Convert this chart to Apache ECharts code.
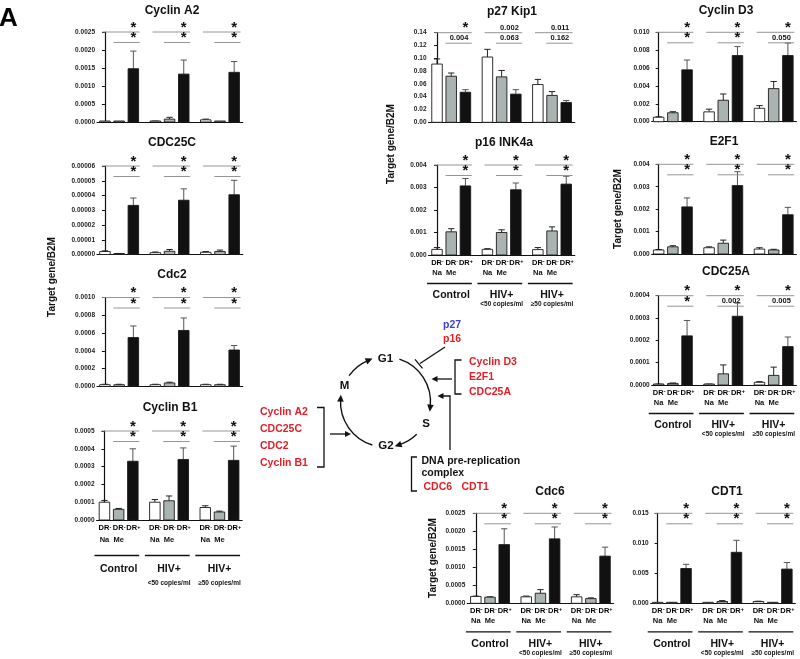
<!DOCTYPE html>
<html><head><meta charset="utf-8">
<script src="https://cdn.jsdelivr.net/npm/echarts@6/dist/echarts.min.js"></script>
<style>html,body{margin:0;padding:0;background:#fff}#c{width:800px;height:659px}</style>
</head><body><div id="c"></div>
<script>
const FONT = '"Liberation Sans", Arial, Helvetica, sans-serif';

// ---------- DATA ----------
const barLabelsTop = ['DR⁻', 'DR⁻', 'DR⁺'];
const barLabelsBottom = ['Na', 'Me', ''];
const groupNames = ['Control', 'HIV+', 'HIV+'];
const groupSubs = ['', '<50 copies/ml', '≥50 copies/ml'];

const cyclinA2Mean = [0.00001, 0.00001, 0.00148, 0.00002, 0.00008, 0.00133, 0.00006, 0.00002, 0.00138];
const cyclinA2Err  = [0, 0, 0.00049, 0.000005, 0.00005, 0.00039, 0.00002, 0, 0.00030];
const cyclinA2Sig  = [['*', '*'], ['*', '*'], ['*', '*']];
const cyclinA2Ticks = ['0.0000', '0.0005', '0.0010', '0.0015', '0.0020', '0.0025'];

const cdc25cMean = [0.0000020, 0.0000005, 0.0000333, 0.0000012, 0.0000022, 0.0000368, 0.0000015, 0.0000020, 0.0000405];
const cdc25cErr  = [0.0000005, 0.0000002, 0.0000050, 0.0000005, 0.0000012, 0.0000077, 0.0000005, 0.0000010, 0.0000098];
const cdc25cSig  = [['*', '*'], ['*', '*'], ['*', '*']];
const cdc25cTicks = ['0.00000', '0.00001', '0.00002', '0.00003', '0.00004', '0.00005', '0.00006'];

const cdc2Mean = [0.00002, 0.00002, 0.00055, 0.00002, 0.00004, 0.00063, 0.00002, 0.00002, 0.00041];
const cdc2Err  = [0.000005, 0.000005, 0.00013, 0.000005, 0.000008, 0.00014, 0.000005, 0.000005, 0.00005];
const cdc2Sig  = [['*', '*'], ['*', '*'], ['*', '*']];
const cdc2Ticks = ['0.0000', '0.0002', '0.0004', '0.0006', '0.0008', '0.0010'];

const cyclinB1Mean = [0.00010, 0.00006, 0.00033, 0.00010, 0.000108, 0.00034, 0.00007, 0.000045, 0.000335];
const cyclinB1Err  = [0.00001, 0.000005, 0.00007, 0.000015, 0.000027, 0.000065, 0.00001, 0.000005, 0.00008];
const cyclinB1Sig  = [['*', '*'], ['*', '*'], ['*', '*']];
const cyclinB1Ticks = ['0.0000', '0.0001', '0.0002', '0.0003', '0.0004', '0.0005'];

const p27Mean = [0.091, 0.072, 0.047, 0.102, 0.071, 0.044, 0.059, 0.042, 0.031];
const p27Err  = [0.008, 0.005, 0.004, 0.012, 0.010, 0.007, 0.008, 0.006, 0.003];
const p27Sig  = [['*', '0.004'], ['0.002', '0.063'], ['0.011', '0.162']];
const p27Ticks = ['0.00', '0.02', '0.04', '0.06', '0.08', '0.10', '0.12', '0.14'];

const p16Mean = [0.00025, 0.00103, 0.00307, 0.00025, 0.00100, 0.00290, 0.00024, 0.00107, 0.00315];
const p16Err  = [0.00008, 0.00014, 0.00033, 0.00003, 0.00012, 0.00030, 0.00009, 0.00018, 0.00035];
const p16Sig  = [['*', '*'], ['*', '*'], ['*', '*']];
const p16Ticks = ['0.000', '0.001', '0.002', '0.003', '0.004'];

const cyclinD3Mean = [0.0005, 0.0010, 0.0058, 0.0011, 0.0024, 0.0074, 0.0015, 0.0037, 0.0074];
const cyclinD3Err  = [0.00005, 0.00012, 0.0011, 0.0003, 0.0007, 0.0010, 0.0003, 0.0008, 0.0014];
const cyclinD3Sig  = [['*', '*'], ['*', '*'], ['*', '0.050']];
const cyclinD3Ticks = ['0.000', '0.002', '0.004', '0.006', '0.008', '0.010'];

const e2f1Mean = [0.00018, 0.00032, 0.00210, 0.00028, 0.00048, 0.00305, 0.00022, 0.00018, 0.00175];
const e2f1Err  = [0.00002, 0.00005, 0.00040, 0.00004, 0.00014, 0.00062, 0.00006, 0.00003, 0.00033];
const e2f1Sig  = [['*', '*'], ['*', '*'], ['*', '*']];
const e2f1Ticks = ['0.000', '0.001', '0.002', '0.003', '0.004'];

const cdc25aMean = [0.000003, 0.000007, 0.000220, 0.000003, 0.000050, 0.000308, 0.000012, 0.000043, 0.000172];
const cdc25aErr  = [0.000001, 0.000002, 0.000069, 0.000001, 0.000040, 0.000059, 0.000003, 0.000037, 0.000043];
const cdc25aSig  = [['*', '*'], ['*', '0.002'], ['*', '0.005']];
const cdc25aTicks = ['0.0000', '0.0001', '0.0002', '0.0003', '0.0004'];

const cdc6Mean = [0.00019, 0.00017, 0.00163, 0.00018, 0.00028, 0.00179, 0.00018, 0.00013, 0.00131];
const cdc6Err  = [0.00001, 0.00001, 0.00044, 0.00002, 0.00010, 0.00033, 0.00006, 0.00002, 0.00025];
const cdc6Sig  = [['*', '*'], ['*', '*'], ['*', '*']];
const cdc6Ticks = ['0.0000', '0.0005', '0.0010', '0.0015', '0.0020', '0.0025'];

const cdt1Mean = [0.0001, 0.00005, 0.0058, 0.0001, 0.0003, 0.0085, 0.0003, 0.0001, 0.0057];
const cdt1Err  = [0.00002, 0.00001, 0.0007, 0.00002, 0.00015, 0.0020, 0.00005, 0.00001, 0.0011];
const cdt1Sig  = [['*', '*'], ['*', '*'], ['*', '*']];
const cdt1Ticks = ['0.000', '0.005', '0.010', '0.015'];

// ---------- LAYOUT ----------
const STEP = 14.2;
const POS = [0, 1, 2, 3.55, 4.55, 5.55, 7.1, 8.1, 9.1];
const GSTART = [0, 3.55, 7.1];
const BAR_W = 0.74;
const FILLS = ['#ffffff', '#a9b3b1', '#111111'];
const LAB_STD = [7.5, 18, 28.5, 40.5, 49.5];
const LAB_LEFT = [8, 20, 35.5, 49.5, 63];

const panels = [
  {title: 'Cyclin A2', mean: cyclinA2Mean, err: cyclinA2Err, sig: cyclinA2Sig, ticks: cyclinA2Ticks, ax: 97, yTop: 32, y0: 122, tx: 172, ty: 10.5, off: 0.56},
  {title: 'CDC25C', mean: cdc25cMean, err: cdc25cErr, sig: cdc25cSig, ticks: cdc25cTicks, ax: 97, yTop: 166, y0: 254.5, tx: 172, ty: 143, off: 0.56},
  {title: 'Cdc2', mean: cdc2Mean, err: cdc2Err, sig: cdc2Sig, ticks: cdc2Ticks, ax: 97, yTop: 297.5, y0: 386.5, tx: 172, ty: 275, off: 0.56},
  {title: 'Cyclin B1', mean: cyclinB1Mean, err: cyclinB1Err, sig: cyclinB1Sig, ticks: cyclinB1Ticks, ax: 96.5, yTop: 431, y0: 520, tx: 170, ty: 408, off: 0.56, lab: LAB_LEFT},
  {title: 'p27 Kip1', mean: p27Mean, err: p27Err, sig: p27Sig, ticks: p27Ticks, ax: 428.5, yTop: 32.7, y0: 122.3, tx: 512, ty: 11.5, off: 0.6},
  {title: 'p16 INK4a', mean: p16Mean, err: p16Err, sig: p16Sig, ticks: p16Ticks, ax: 428.5, yTop: 165, y0: 255, tx: 504, ty: 142.5, off: 0.6, lab: LAB_STD},
  {title: 'Cyclin D3', mean: cyclinD3Mean, err: cyclinD3Err, sig: cyclinD3Sig, ticks: cyclinD3Ticks, ax: 651.7, yTop: 32.3, y0: 121.7, tx: 726, ty: 10.5, off: 0.49},
  {title: 'E2F1', mean: e2f1Mean, err: e2f1Err, sig: e2f1Sig, ticks: e2f1Ticks, ax: 651.7, yTop: 164.3, y0: 254, tx: 724, ty: 142, off: 0.49},
  {title: 'CDC25A', mean: cdc25aMean, err: cdc25aErr, sig: cdc25aSig, ticks: cdc25aTicks, ax: 651.7, yTop: 295.7, y0: 385, tx: 726, ty: 272, off: 0.49, lab: LAB_STD},
  {title: 'Cdc6', mean: cdc6Mean, err: cdc6Err, sig: cdc6Sig, ticks: cdc6Ticks, ax: 467.3, yTop: 513.3, y0: 603.3, tx: 550, ty: 492, off: 0.6, lab: LAB_STD},
  {title: 'CDT1', mean: cdt1Mean, err: cdt1Err, sig: cdt1Sig, ticks: cdt1Ticks, ax: 650.7, yTop: 513.3, y0: 603.3, tx: 727, ty: 492, off: 0.49, lab: LAB_STD}
];

function renderBar(params, api) {
  const x = api.value(0), m = api.value(1), e = api.value(2), k = api.value(3);
  const top = api.coord([x, m]);
  const base = api.coord([x, 0]);
  const w = api.size([BAR_W, 0])[0];
  const ch = [];
  if (e > 0) {
    const et = api.coord([x, m + e]);
    const st = {stroke: k === 2 ? '#555' : '#222', lineWidth: 1};
    ch.push({type: 'line', shape: {x1: top[0], y1: top[1], x2: top[0], y2: et[1]}, style: st});
    ch.push({type: 'line', shape: {x1: top[0] - w * 0.3, y1: et[1], x2: top[0] + w * 0.3, y2: et[1]}, style: st});
  }
  const h = Math.max(base[1] - top[1], 1);
  ch.push({type: 'rect', shape: {x: top[0] - w / 2, y: base[1] - h, width: w, height: h},
           style: {fill: FILLS[k], stroke: '#1a1a1a', lineWidth: 0.9}});
  return {type: 'group', children: ch};
}

function sigRender(sig, max) {
  return function (params, api) {
    const pair = sig[params.dataIndex];
    const g = api.value(0);
    const y1 = api.coord([g, max])[1];
    const y2 = y1 + 10.5;
    const X = v => api.coord([v, 0])[0];
    const xr = X(g + 2.45), xa = X(g - 0.2), xb = X(g + 0.6), xs = X(g + 2);
    const ls = {stroke: '#8a8a8a', lineWidth: 0.9};
    const mk = (txt, y) => txt === '*'
      ? {type: 'text', style: {text: '*', x: xs, y: y - 4.5, align: 'center', verticalAlign: 'middle', font: 'bold 15px ' + FONT, fill: '#111'}}
      : {type: 'text', style: {text: txt, x: xs + 3, y: y - 0.8, align: 'right', verticalAlign: 'bottom', font: 'bold 7.5px ' + FONT, fill: '#111'}};
    return {type: 'group', children: [
      {type: 'line', shape: {x1: xa, y1: y1, x2: xr, y2: y1}, style: ls},
      {type: 'line', shape: {x1: xb, y1: y2, x2: xr, y2: y2}, style: ls},
      mk(pair[0], y1), mk(pair[1], y2)
    ]};
  };
}

const RICH = {
  a: {fontSize: 7.5, fontWeight: 'bold', fontFamily: FONT, color: '#111', lineHeight: 8},
  s: {fontSize: 5.5, fontWeight: 'bold', fontFamily: FONT, color: '#111', verticalAlign: 'top', lineHeight: 8}
};
function supLabel(t) {
  const last = t.slice(-1);
  const sign = last === '⁻' ? '-' : (last === '⁺' ? '+' : '');
  return sign ? '{a|' + t.slice(0, -1) + '}{s|' + sign + '}' : '{a|' + t + '}';
}

function labelRender(off) {
  return function (params, api) {
    const gi = params.dataIndex;
    const g = api.value(0);
    const b = api.coord([g, 0])[1];
    const X = v => api.coord([v, 0])[0];
    const ch = [];
    for (let k = 0; k < 3; k++) {
      ch.push({type: 'text', style: {text: supLabel(barLabelsTop[k]), rich: RICH, x: X(g + k) + 0.5, y: b + off[0], align: 'center', verticalAlign: 'middle'}});
      if (barLabelsBottom[k]) ch.push({type: 'text', style: {text: barLabelsBottom[k], x: X(g + k), y: b + off[1], align: 'center', verticalAlign: 'middle', font: 'bold 7.5px ' + FONT, fill: '#111'}});
    }
    ch.push({type: 'line', shape: {x1: X(g - 0.7), y1: b + off[2], x2: X(g + 2.45), y2: b + off[2]}, style: {stroke: '#111', lineWidth: 1.3}});
    ch.push({type: 'text', style: {text: groupNames[gi], x: X(g + 1), y: b + off[3], align: 'center', verticalAlign: 'middle', font: 'bold 10.5px ' + FONT, fill: '#111'}});
    if (groupSubs[gi]) ch.push({type: 'text', style: {text: groupSubs[gi], x: X(g + 1), y: b + off[4], align: 'center', verticalAlign: 'middle', font: 'bold 6.5px ' + FONT, fill: '#111'}});
    return {type: 'group', children: ch};
  };
}

const grids = [], xAxes = [], yAxes = [], series = [], graphics = [];
panels.forEach((p, i) => {
  const xmin = -p.off, xmax = POS[POS.length - 1] + 0.6;
  const max = parseFloat(p.ticks[p.ticks.length - 1]);
  const interval = parseFloat(p.ticks[1]);
  grids.push({left: p.ax, top: p.yTop, width: (xmax - xmin) * STEP, height: p.y0 - p.yTop, containLabel: false, outerBoundsMode: 'none'});
  xAxes.push({type: 'value', gridIndex: i, min: xmin, max: xmax, axisLine: {show: true, onZero: false, lineStyle: {color: '#111', width: 1.2}},
              axisTick: {show: false}, axisLabel: {show: false}, splitLine: {show: false}});
  yAxes.push({type: 'value', gridIndex: i, min: 0, max: max, interval: interval,
              axisLine: {show: true, lineStyle: {color: '#111', width: 1.2}},
              axisTick: {show: true, inside: false, length: 3, lineStyle: {color: '#111', width: 1}},
              splitLine: {show: false},
              axisLabel: {margin: 2, fontSize: 6.5, fontWeight: 'bold', fontFamily: FONT, color: '#222',
                          formatter: v => p.ticks[Math.round(v / interval)] || ''}});
  series.push({type: 'custom', xAxisIndex: i, yAxisIndex: i, silent: true, animation: false,
               data: POS.map((x, j) => [x, p.mean[j], p.err[j], j % 3]), renderItem: renderBar});
  series.push({type: 'custom', xAxisIndex: i, yAxisIndex: i, silent: true, animation: false,
               data: GSTART.map(g => [g, max]), renderItem: sigRender(p.sig, max)});
  if (p.lab) series.push({type: 'custom', xAxisIndex: i, yAxisIndex: i, silent: true, animation: false,
               data: GSTART.map(g => [g, 0]), renderItem: labelRender(p.lab)});
  graphics.push({type: 'text', x: p.tx, y: p.ty, silent: true,
                 style: {text: p.title, font: 'bold 12px ' + FONT, fill: '#111', align: 'center', verticalAlign: 'middle', textAlign: 'center', textVerticalAlign: 'middle'}});
});

// y-axis names
[[52, 277], [391, 144], [618, 209], [433, 558]].forEach(([x, y]) => {
  graphics.push({type: 'text', x: x, y: y, rotation: Math.PI / 2, silent: true,
    style: {text: 'Target gene/B2M', font: 'bold 10px ' + FONT, fill: '#111', align: 'center', verticalAlign: 'middle', textAlign: 'center', textVerticalAlign: 'middle'}});
});

// panel letter
graphics.push({type: 'text', x: -1, y: 6, silent: true, style: {text: 'A', font: 'bold 26px ' + FONT, fill: '#000', align: 'left', verticalAlign: 'top', textAlign: 'left', textVerticalAlign: 'top'}});

// ---------- CELL-CYCLE DIAGRAM ----------
const RED = '#e41e26', BLUE = '#3c3cd6';
const CX = 385.5, CY = 402, R = 45;
const deg = d => d * Math.PI / 180;
function tri(tip, dir, len, half) {
  const n = [-dir[1], dir[0]];
  const bx = tip[0] - dir[0] * len, by = tip[1] - dir[1] * len;
  return {type: 'polygon', silent: true, shape: {points: [tip, [bx + n[0] * half, by + n[1] * half], [bx - n[0] * half, by - n[1] * half]]}, style: {fill: '#111'}};
}
function arcArrow(a0, a1) {
  graphics.push({type: 'arc', silent: true, shape: {cx: CX, cy: CY, r: R, startAngle: deg(a0), endAngle: deg(a1), clockwise: true},
                 style: {stroke: '#111', lineWidth: 1.4, fill: null}});
  const t = deg(a1);
  const p = [CX + R * Math.cos(t), CY + R * Math.sin(t)];
  const d = [-Math.sin(t), Math.cos(t)];
  graphics.push(tri([p[0] + d[0] * 5, p[1] + d[1] * 5], d, 7, 3.3));
}
arcArrow(216, 247);
arcArrow(288, 366);
arcArrow(46, 72);
arcArrow(107, 183);

function txt(t, x, y, color, size, align) {
  graphics.push({type: 'text', x: x, y: y, silent: true,
    style: {text: t, font: 'bold ' + size + 'px ' + FONT, fill: color, align: align || 'left', verticalAlign: 'middle', textAlign: align || 'left', textVerticalAlign: 'middle'}});
}
function pline(pts, w) {
  graphics.push({type: 'polyline', silent: true, shape: {points: pts}, style: {stroke: '#111', lineWidth: w || 1.3, fill: null}});
}
txt('G1', 385.5, 359, '#111', 11.5, 'center');
txt('M', 344.5, 386, '#111', 11.5, 'center');
txt('S', 426, 424, '#111', 11.5, 'center');
txt('G2', 386, 446, '#111', 11.5, 'center');

txt('p27', 443, 325, BLUE, 10.5);
txt('p16', 443, 339, RED, 10.5);
pline([[445, 347], [420, 363.5]], 1.3);
pline([[415, 359.3], [422.5, 368.3]], 1.3);

txt('Cyclin D3', 469, 362, RED, 10.5);
txt('E2F1', 469, 377, RED, 10.5);
txt('CDC25A', 469, 392, RED, 10.5);
pline([[461.5, 360], [455, 360], [455, 394], [461.5, 394]], 1.3);
pline([[452, 379], [437, 379]], 1.3);
graphics.push(tri([431.5, 379], [-1, 0], 6, 3));

txt('Cyclin A2', 260, 412.5, RED, 10.5);
txt('CDC25C', 260, 429, RED, 10.5);
txt('CDC2', 260, 446, RED, 10.5);
txt('Cyclin B1', 260, 463, RED, 10.5);
pline([[317, 407.5], [324, 407.5], [324, 467], [317, 467]], 1.3);
pline([[330, 434], [345, 434]], 1.3);
graphics.push(tri([351, 434], [1, 0], 6, 3));

txt('DNA pre-replication', 421.5, 461.5, '#111', 10.5);
txt('complex', 421.5, 473.5, '#111', 10.5);
txt('CDC6', 423.5, 487, RED, 10.5);
txt('CDT1', 461.5, 487, RED, 10.5);
pline([[417, 457], [411.5, 457], [411.5, 491], [417, 491]], 1.3);
pline([[450, 450], [450, 396], [443, 396]], 1.3);
graphics.push(tri([437.5, 396], [-1, 0], 6, 3));

const chart = echarts.init(document.getElementById('c'), null, {renderer: 'canvas'});
chart.setOption({
  animation: false,
  backgroundColor: '#ffffff',
  grid: grids, xAxis: xAxes, yAxis: yAxes, series: series,
  graphic: {elements: graphics}
});
</script>
</body></html>
